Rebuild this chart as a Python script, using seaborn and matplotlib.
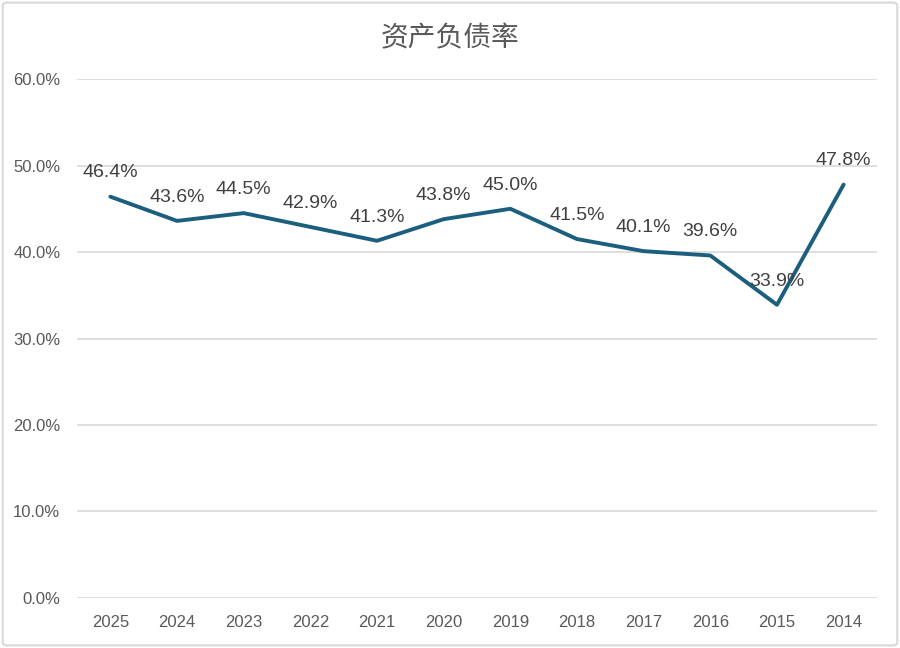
import matplotlib
matplotlib.use("Agg")
import matplotlib.pyplot as plt
import seaborn as sns
import pandas as pd
from matplotlib.patches import FancyBboxPatch

years = ["2025", "2024", "2023", "2022", "2021", "2020", "2019", "2018", "2017", "2016", "2015", "2014"]
ratios = [46.4, 43.6, 44.5, 42.9, 41.3, 43.8, 45.0, 41.5, 40.1, 39.6, 33.9, 47.8]
title = "资产负债率"

df = pd.DataFrame({"year": years, "ratio": [r / 100 for r in ratios]})

sns.set_theme(style="white")
plt.rcParams['font.family'] = ['Noto Sans CJK SC', 'DejaVu Sans']

fig = plt.figure(figsize=(9, 6.48), dpi=100)
ax = fig.add_axes([0.0856, 0.0772, 0.8888, 0.8008])

color = "#1B5E7E"
sns.lineplot(data=df, x="year", y="ratio", ax=ax, color=color, linewidth=2.8, sort=False)

for i, r in enumerate(ratios):
    ax.annotate(f"{r:.1f}%", (i, r / 100), xytext=(0, 11), textcoords="offset points",
                ha="center", va="bottom", fontsize=14, color="#404040",
                family=['Liberation Sans', 'DejaVu Sans'])

ax.set_xlim(-0.5, len(years) - 0.5)
ax.set_ylim(0, 0.6)
yt = [0, 0.1, 0.2, 0.3, 0.4, 0.5, 0.6]
ax.set_yticks(yt)
ax.set_yticklabels([f"{v*100:.1f}%" for v in yt], family=['Liberation Sans', 'DejaVu Sans'])
ax.set_xticks(range(len(years)))
ax.set_xticklabels(years, family=['Liberation Sans', 'DejaVu Sans'])
ax.tick_params(axis="both", labelsize=12, colors="#595959", length=0, pad=12)
ax.grid(axis="y", color="#D9D9D9", linewidth=1.2)
ax.grid(axis="x", visible=False)
for s in ax.spines.values():
    s.set_visible(False)
ax.set_xlabel("")
ax.set_ylabel("")

fig.text(0.5, 0.94, title, ha="center", va="center", fontsize=20, color="#595959")

border = FancyBboxPatch((0.003, 0.004), 0.994, 0.992, boxstyle="round,pad=0,rounding_size=0.005",
                        transform=fig.transFigure, fill=False, edgecolor="#D9D9D9", linewidth=1.5)
fig.patches.append(border)

fig.savefig("out.png", dpi=100)
